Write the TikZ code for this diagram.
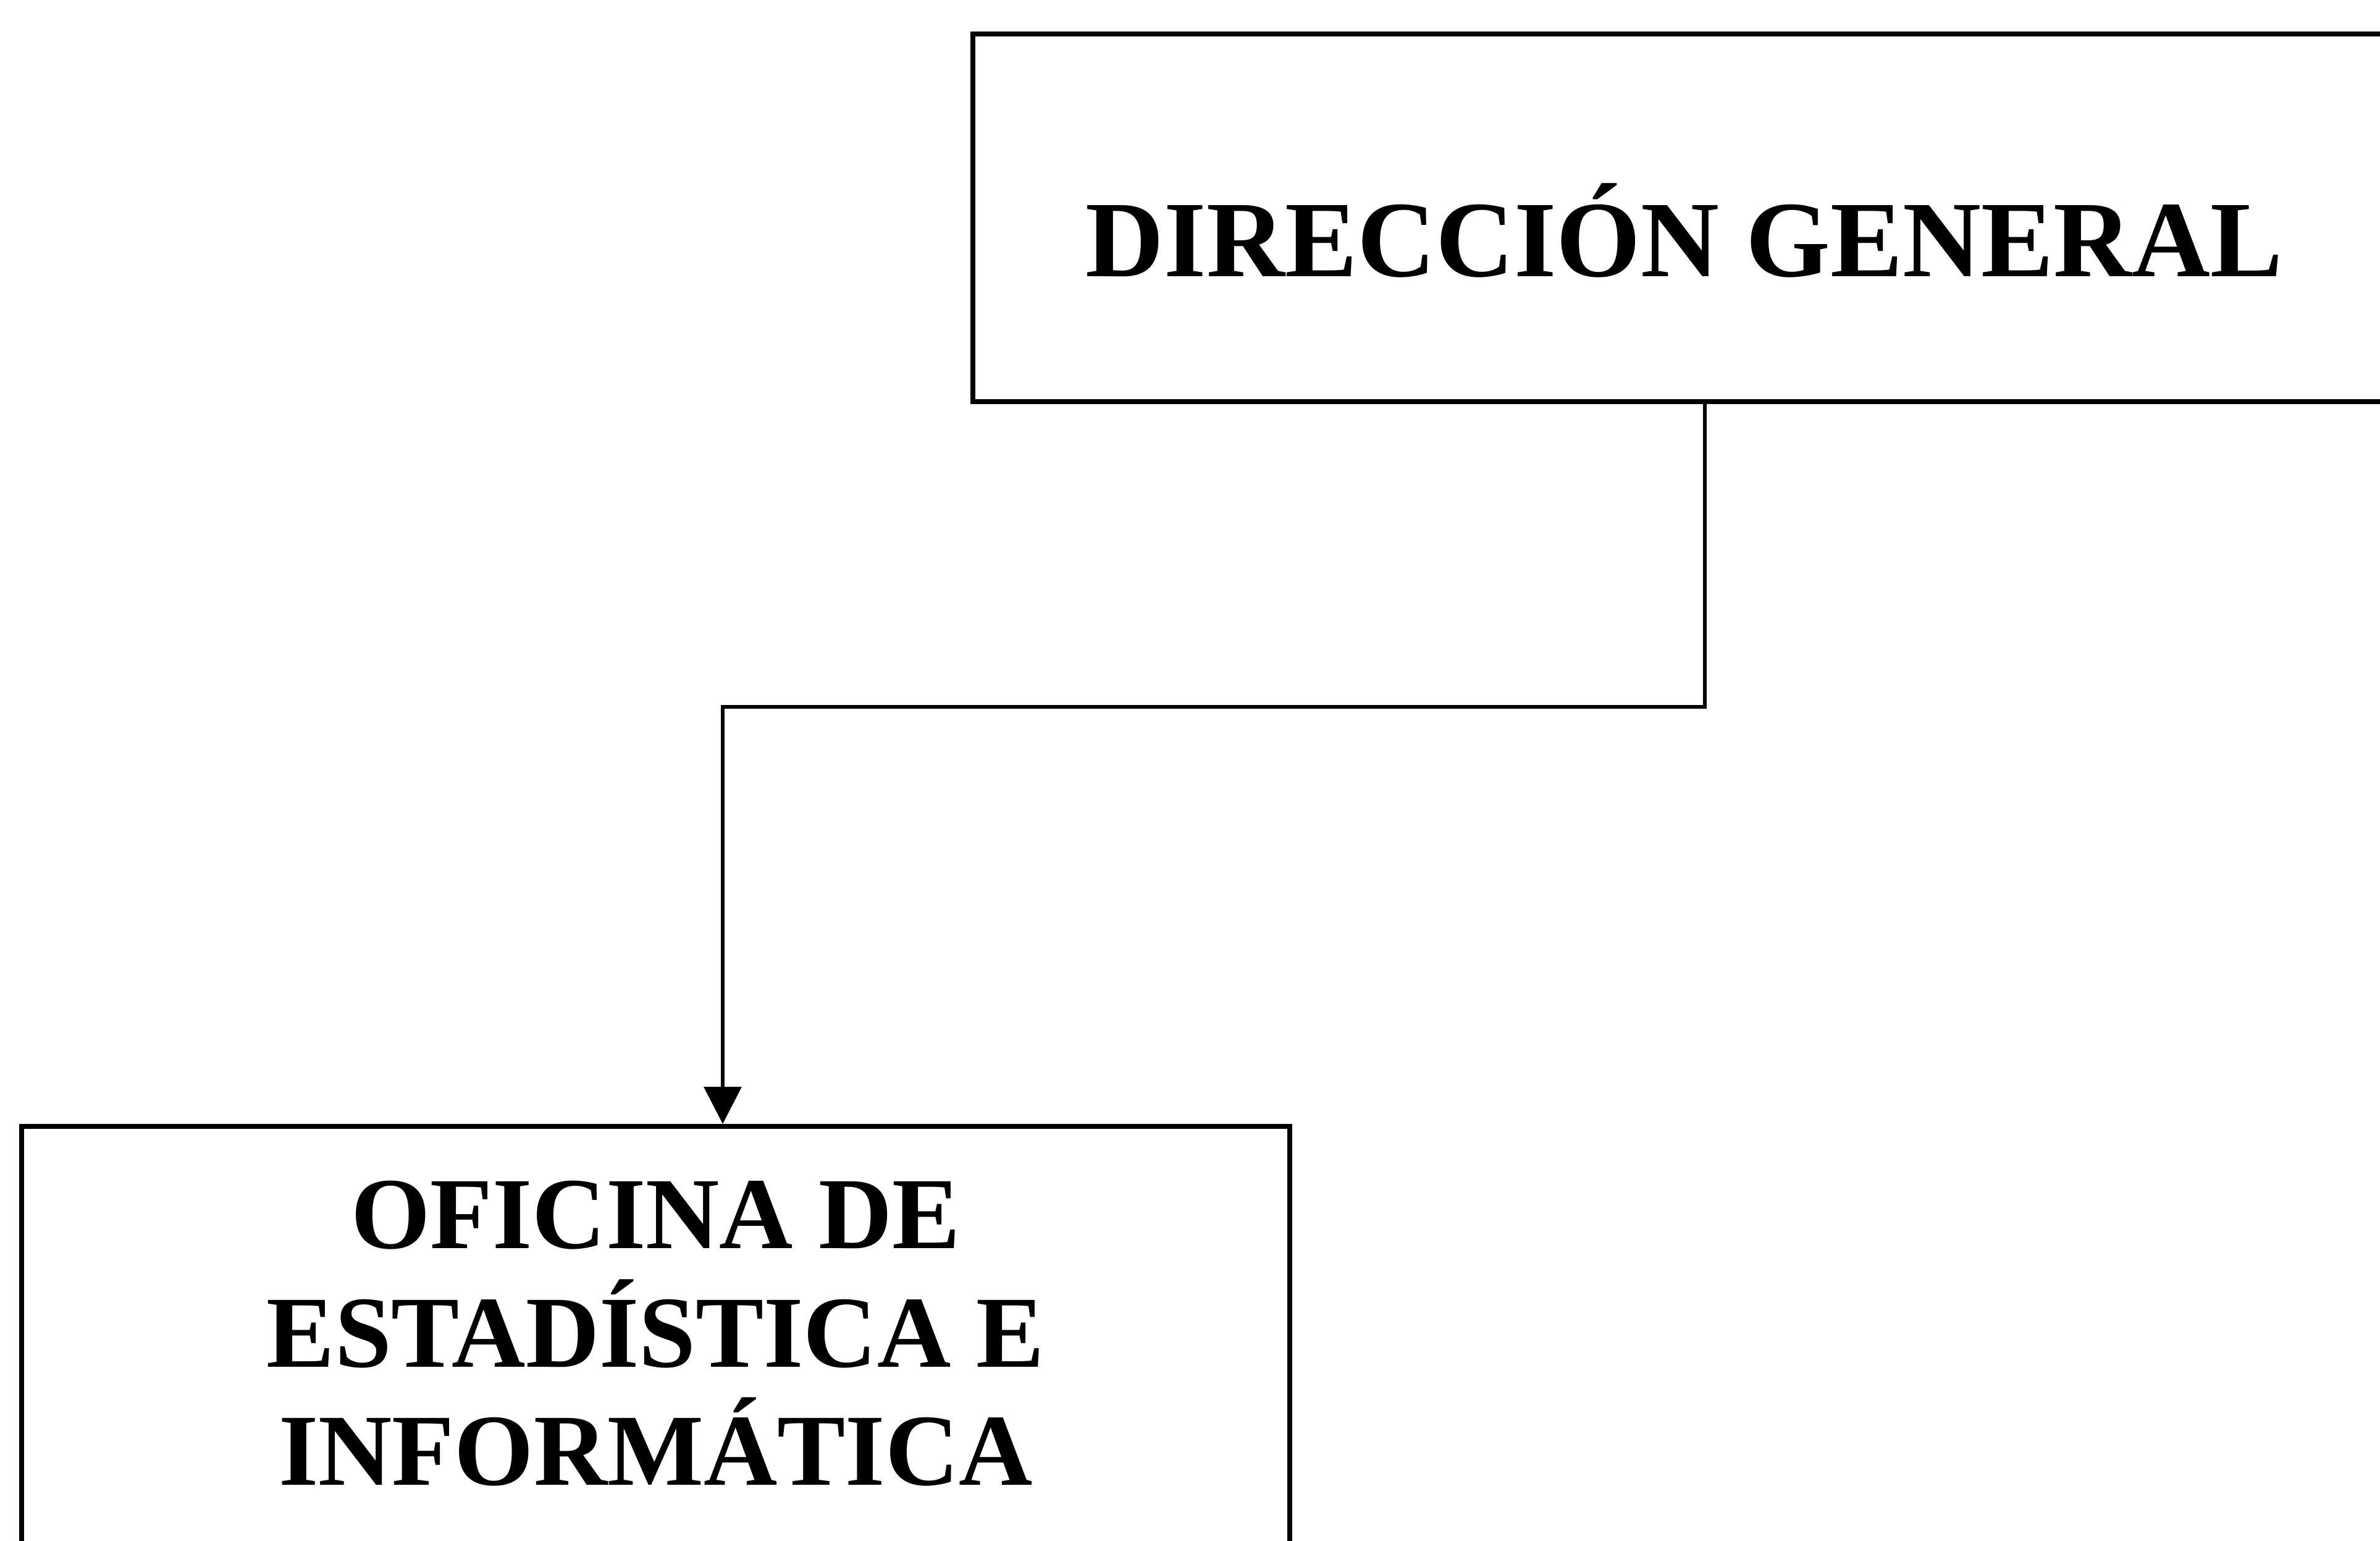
\documentclass[tikz,border=0pt]{standalone}
\usepackage{fontspec}
\setmainfont{Liberation Serif}
\usetikzlibrary{arrows.meta}
\begin{document}
\begin{tikzpicture}
        \tikzset{unit/.style={draw,line width=2.3pt,inner sep=0pt},
                 title/.style={font=\bfseries\fontsize{50}{60}\selectfont,inner sep=0pt,anchor=base},
                 link/.style={line width=1.9pt,-{Triangle[width=0.6cm,length=0.6cm]}}};
        \useasboundingbox (0,0) rectangle (38.53,-24.93);
        \node[unit,minimum width=23.04cm,minimum height=5.95cm] (dg) at (27.27,-3.525) {};
        \node[title] (dgtext) at ([yshift=-0.95cm]dg.center) {DIRECCIÓN GENERAL};
        \node[unit,minimum width=20.53cm,minimum height=7.37cm] (oei) at (10.615,-21.915) {};
        \node[title,font=\bfseries\fontsize{47}{54.6}\selectfont,align=center] (oeitext) at ([yshift=-5.85cm]oei.north) {OFICINA DE\\ESTADÍSTICA E\\INFORMÁTICA};
        \draw[link] ([xshift=0.33cm]dg.south) -- ++(0,-4.9) -| ([xshift=1.085cm]oei.north);
    \end{tikzpicture}
\end{document}
